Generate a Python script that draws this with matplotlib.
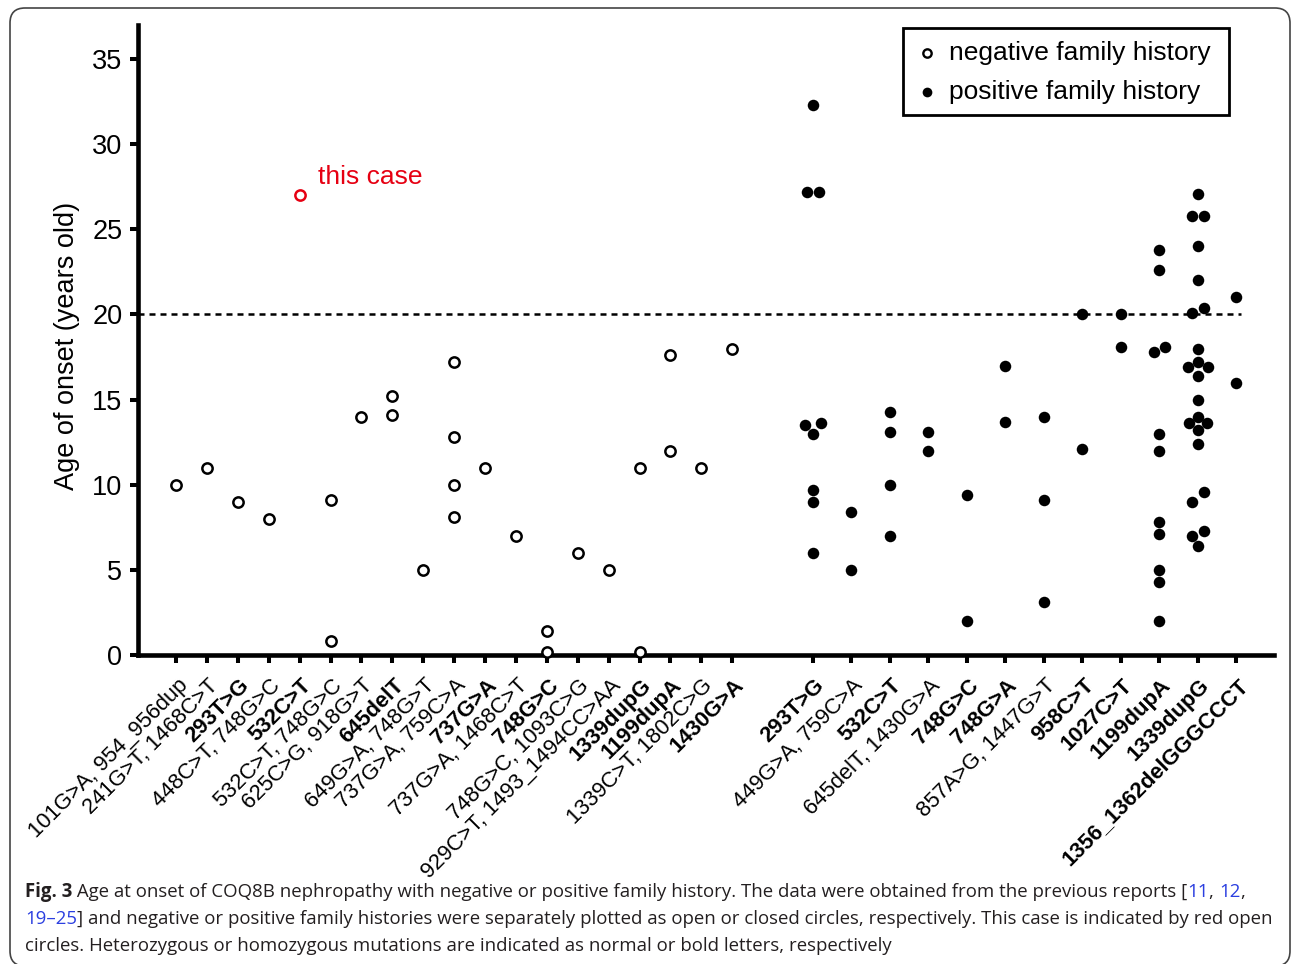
import numpy as np
import matplotlib
matplotlib.use('Agg')
import matplotlib.pyplot as plt
from matplotlib.patches import FancyBboxPatch, Rectangle
from matplotlib.lines import Line2D
from matplotlib.transforms import ScaledTranslation, IdentityTransform

plt.rcParams['font.family'] = ['Liberation Sans', 'DejaVu Sans']

# ---- data ----
neg_labels = ['101G>A, 954_956dup', '241G>T, 1468C>T', '293T>G', '448C>T, 748G>C',
              '532C>T', '532C>T, 748G>C', '625C>G, 918G>T', '645delT',
              '649G>A, 748G>T', '737G>A, 759C>A', '737G>A', '737G>A, 1468C>T',
              '748G>C', '748G>C, 1093C>G', '929C>T, 1493_1494CC>AA', '1339dupG',
              '1199dupA', '1339C>T, 1802C>G', '1430G>A']
neg_bold = [0, 0, 1, 0, 1, 0, 0, 1, 0, 0, 1, 0, 1, 0, 0, 1, 1, 0, 1]
neg_ages = [[10.0], [11.0], [9.0], [8.0], [], [9.1, 0.8], [14.0], [15.2, 14.1],
            [5.0], [17.2, 12.8, 10.0, 8.1], [11.0], [7.0], [1.4, 0.2], [6.0],
            [5.0], [11.0, 0.2], [17.6, 12.0], [11.0], [18.0]]

pos_labels = ['293T>G', '449G>A, 759C>A', '532C>T', '645delT, 1430G>A', '748G>C',
              '748G>A', '857A>G, 1447G>T', '958C>T', '1027C>T', '1199dupA',
              '1339dupG', '1356_1362delGGGCCCT']
pos_bold = [1, 0, 1, 0, 1, 1, 0, 1, 1, 1, 1, 1]
pos_ages = [[32.3, 27.2, 27.2, 13.5, 13.6, 13.0, 9.7, 9.0, 6.0],
            [8.4, 5.0],
            [14.3, 13.1, 10.0, 7.0],
            [13.1, 12.0],
            [9.4, 2.0],
            [17.0, 13.7],
            [14.0, 9.1, 3.1],
            [20.0, 12.1],
            [20.0, 18.1],
            [23.8, 22.6, 18.1, 17.8, 13.0, 12.0, 7.8, 7.1, 5.0, 4.3, 2.0],
            [27.1, 25.8, 25.8, 24.0, 22.0, 20.4, 20.1, 18.0, 17.2, 16.9, 16.9,
             16.4, 15.0, 14.0, 13.6, 13.6, 13.2, 12.4, 9.6, 9.0, 7.3, 7.0, 6.4],
            [21.0, 16.0]]

this_case_col = 4
this_case_age = 27.0
cutoff = 20

RED = '#e60012'
BLUE = '#2b3fe0'

W, H = 1292, 964
fig = plt.figure(figsize=(W / 100, H / 100), dpi=100)


def fx(px):
    return px / W


def fy(py):
    return 1 - py / H


ax = fig.add_axes([fx(138), fy(655), fx(1274) - fx(138), fy(25) - fy(655)])
ax.set_xlim(-1.23, 35.53)
ax.set_ylim(0, 37)

left_x = np.arange(len(neg_labels))
right_x = 20.61 + np.arange(len(pos_labels)) * 1.246

# pixels per data unit, for the little horizontal spread of close points
p0, p1 = ax.transData.transform([(0, 0), (1, 1)])
px_x, px_y = p1 - p0


def spread(vals, half_gap=5.8, diam=11.5, pair_tol=0.62):
    """pair up near-equal values and push them apart sideways (pixels)"""
    vals = np.asarray(vals, float)
    n = len(vals)
    off = np.zeros(n)
    cand = sorted((abs(vals[i] - vals[j]), i, j)
                  for i in range(n) for j in range(i + 1, n))
    used, pairs = set(), []
    for d, i, j in cand:
        if d < pair_tol and i not in used and j not in used:
            used.update((i, j))
            pairs.append((i, j))
    singles = [k for k in range(n) if k not in used]
    for i, j in pairs:
        lo, hi = (i, j) if vals[i] <= vals[j] else (j, i)
        h = half_gap
        for k in singles:
            for m in (i, j):
                dy = abs(vals[k] - vals[m]) * px_y
                if dy < diam:
                    h = max(h, np.sqrt(diam ** 2 - dy ** 2))
        off[lo], off[hi] = -h, h
    return off / px_x


ax.axhline(cutoff, xmin=0, xmax=(right_x[-1] + 0.15 + 1.23) / (35.53 + 1.23),
           color='black', lw=1.8, ls=(0, (2.4, 2.0)), zorder=2)

for x, ages in zip(left_x, neg_ages):
    if not ages:
        continue
    ax.plot(x + spread(ages), ages, 'o', ls='none', ms=7.4, mfc='white',
            mec='black', mew=1.8, clip_on=False, zorder=3)

for x, ages in zip(right_x, pos_ages):
    ax.plot(x + spread(ages), ages, 'o', ls='none', ms=8.3, mfc='black',
            mec='black', mew=0, clip_on=False, zorder=3)

ax.plot([left_x[this_case_col]], [this_case_age], 'o', ms=7.4, mfc='white',
        mec=RED, mew=1.8, clip_on=False, zorder=4)
ax.annotate('this case', (left_x[this_case_col], this_case_age), xytext=(13, 8.4),
            textcoords='offset points', ha='left', va='baseline', color=RED,
            fontsize=19)

# axes styling
for s in ('top', 'right'):
    ax.spines[s].set_visible(False)
for s in ('left', 'bottom'):
    ax.spines[s].set_linewidth(3.3)
    ax.spines[s].set_capstyle('projecting')

ax.set_yticks(np.arange(0, 36, 5))
ax.tick_params(axis='y', length=5.8, width=2.9, pad=5.5, labelsize=19.5)
ax.tick_params(axis='x', length=5.8, width=2.9, pad=14)

ax.set_xticks(np.concatenate([left_x, right_x]))
ax.set_xticklabels(neg_labels + pos_labels, rotation=45, ha='right', va='center',
                   rotation_mode='anchor', fontsize=15.8)
shift = ScaledTranslation(0.085, 0, fig.dpi_scale_trans)
for lab, b in zip(ax.get_xticklabels(), neg_bold + pos_bold):
    lab.set_fontweight('bold' if b else 'normal')
    lab.set_transform(lab.get_transform() + shift)

ax.set_ylabel('Age of onset (years old)', fontsize=19.5)
ax.yaxis.set_label_coords(-0.051, 0.49)

# legend box
fig.add_artist(Rectangle((fx(903), fy(115)), fx(1229) - fx(903), fy(28) - fy(115),
                         transform=fig.transFigure, fill=False, lw=2, ec='black'))
fig.add_artist(Line2D([fx(927)], [fy(53)], transform=fig.transFigure, marker='o',
                      ms=6, mfc='white', mec='black', mew=1.7))
fig.add_artist(Line2D([fx(927)], [fy(92)], transform=fig.transFigure, marker='o',
                      ms=7, mfc='black', mec='black', mew=0))
fig.text(fx(949), fy(53), 'negative family history', fontsize=19, va='center')
fig.text(fx(949), fy(92), 'positive family history', fontsize=19, va='center')

# caption
renderer = fig.canvas.get_renderer()


def text_width(s, **kw):
    t = fig.text(0, 0, s + '|', **kw)
    bar = fig.text(0, 0, '|', **kw)
    w = t.get_window_extent(renderer).width - bar.get_window_extent(renderer).width
    t.remove()
    bar.remove()
    return w


cap_font = ['Open Sans', 'DejaVu Sans']
reg = dict(family=cap_font, color='#231f20')
bold = dict(family=cap_font, color='#231f20', weight='bold')
blue = dict(family=cap_font, color=BLUE)

lines = [
    [('Fig. 3', bold),
     (' Age at onset of COQ8B nephropathy with negative or positive family history. '
      'The data were obtained from the previous reports [', reg),
     ('11', blue), (', ', reg), ('12', blue), (',', reg)],
    [('19\u201325', blue),
     ('] and negative or positive family histories were separately plotted as open '
      'or closed circles, respectively. This case is indicated by red open', reg)],
    [('circles. Heterozygous or homozygous mutations are indicated as normal or bold '
      'letters, respectively', reg)],
]

w10 = sum(text_width(s, fontsize=10, **kw) for s, kw in lines[0])
cap_size = 10 * 1223 / w10

for row, runs in enumerate(lines):
    x = 25
    base = 897 + 27 * row
    for s, kw in runs:
        fig.text(fx(x), fy(base), s, fontsize=cap_size, va='baseline', ha='left', **kw)
        x += text_width(s, fontsize=cap_size, **kw)

# rounded frame around the whole panel
fig.add_artist(FancyBboxPatch((10, H - 966), 1280, 958,
                              boxstyle='round,pad=0,rounding_size=15',
                              transform=IdentityTransform(), fill=False,
                              ec='#444444', lw=1.2))

fig.savefig('out.png', dpi=100)
